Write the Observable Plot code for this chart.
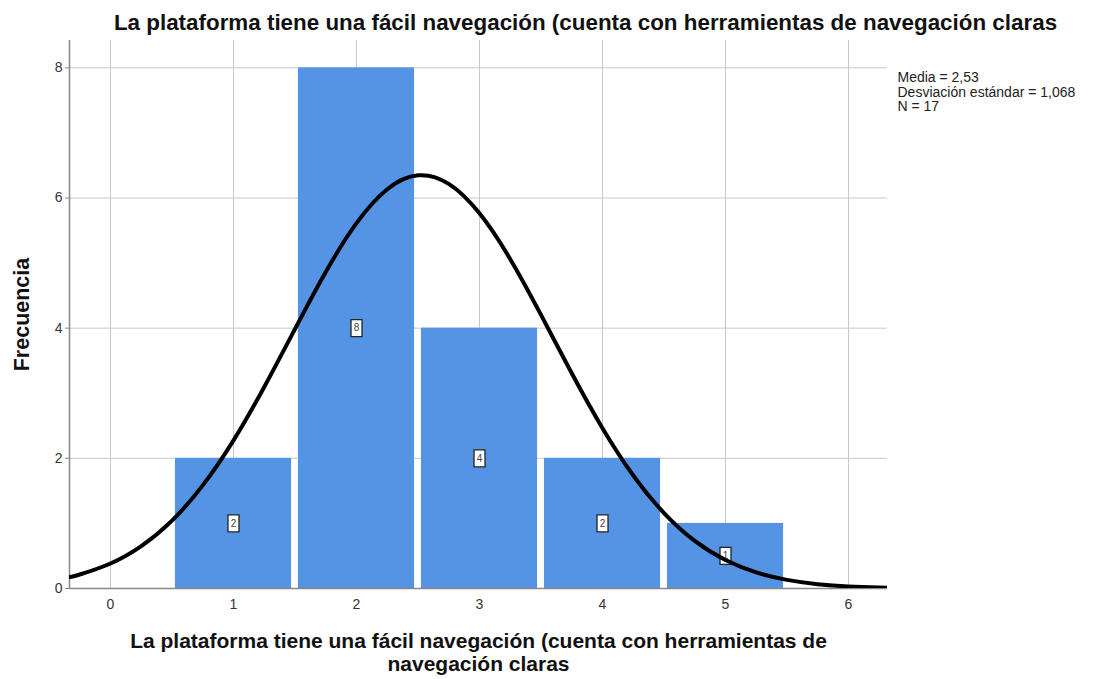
<!DOCTYPE html>
<html><head><meta charset="utf-8">
<script src="https://cdn.jsdelivr.net/npm/d3@7"></script>
<script src="https://cdn.jsdelivr.net/npm/@observablehq/plot@0.6"></script>
<style>body{margin:0;background:#fff;font-family:"Liberation Sans",Arial,sans-serif}</style>
</head><body><div id="chart"></div>
<script>
const title = "La plataforma tiene una fácil navegación (cuenta con herramientas de navegación claras";
const xLabelLines = ["La plataforma tiene una fácil navegación (cuenta con herramientas de", "navegación claras"];
const yLabel = "Frecuencia";
const legendLines = ["Media = 2,53", "Desviación estándar = 1,068", "N = 17"];
const categories = [1, 2, 3, 4, 5];
const counts = [2, 8, 4, 2, 1];
const xTicks = [0, 1, 2, 3, 4, 5, 6];
const yTicks = [0, 2, 4, 6, 8];
// normal curve
const curveX = [-0.33, -0.25, 0, 0.25, 0.5, 0.75, 1, 1.25, 1.5, 1.75, 2, 2.25, 2.5, 2.75, 3, 3.25, 3.5, 3.75, 4, 4.25, 4.5, 4.75, 5, 5.25, 5.5, 5.75, 6, 6.25, 6.31];
const curveY = [0.176, 0.215, 0.384, 0.650, 1.043, 1.584, 2.276, 3.097, 3.988, 4.864, 5.613, 6.135, 6.348, 6.217, 5.764, 5.060, 4.204, 3.307, 2.463, 1.736, 1.159, 0.732, 0.438, 0.248, 0.133, 0.067, 0.032, 0.015, 0.012];

const bars = categories.map((c, i) => ({c, n: counts[i]}));
const curve = curveX.map((x, i) => ({x, y: curveY[i]}));
const half = 0.472;
const boxSymbol = {draw(ctx, size){ ctx.rect(-5.5, -8.5, 11, 17); }};

const W = 1099, H = 679;
const plot = Plot.plot({
  width: W, height: H,
  marginLeft: 69, marginRight: 212, marginTop: 40, marginBottom: 91,
  style: {fontFamily: '"Liberation Sans", Arial, sans-serif', background: "#fff"},
  x: {domain: [-0.3333, 6.317], axis: null},
  y: {domain: [0, 8.42], axis: null},
  marks: [
    Plot.ruleX(xTicks, {x: d => d, stroke: "#c8c8c8", strokeWidth: 1}),
    Plot.ruleY(yTicks.filter(d => d > 0), {y: d => d, stroke: "#c8c8c8", strokeWidth: 1}),
    Plot.rectY(bars, {x1: d => d.c - half, x2: d => d.c + half, y: "n", fill: "#5594e4"}),
    Plot.axisX(xTicks, {tickSize: 0, tickPadding: 11, fontSize: 14, fill: "#333", tickFormat: d => String(d)}),
    Plot.axisY(yTicks, {tickSize: 4, tickPadding: 3, fontSize: 14, fill: "#333", stroke: "#888", tickFormat: d => String(d)}),
    Plot.ruleX([-0.3333], {stroke: "#888", strokeWidth: 1.5}),
    Plot.ruleY([0], {stroke: "#888", strokeWidth: 1.5}),
    Plot.dot(bars, {x: "c", y: d => d.n / 2, symbol: boxSymbol, r: 5, fill: "#fff", stroke: "#222", strokeWidth: 1.3}),
    Plot.text(bars, {x: "c", y: d => d.n / 2, text: d => String(d.n), fontSize: 10, fill: "#444"}),
    Plot.line(curve, {x: "x", y: "y", curve: "natural", stroke: "#000", strokeWidth: 4, clip: true}),
    Plot.text([title], {frameAnchor: "top", lineAnchor: "middle", text: d => d, dy: -18, dx: 107, fontSize: 22.4, fontWeight: "bold", fill: "#111"}),
    Plot.text([yLabel], {frameAnchor: "left", textAnchor: "middle", lineAnchor: "middle", text: d => d, rotate: -90, dx: -47, dy: 0, fontSize: 21.5, fontWeight: "bold", fill: "#111"}),
    Plot.text([xLabelLines.join("\n")], {frameAnchor: "bottom", lineAnchor: "top", text: d => d, dy: 43, lineHeight: 1.1, fontSize: 21, fontWeight: "bold", fill: "#111"}),
    Plot.text([legendLines.join("\n")], {frameAnchor: "top-right", textAnchor: "start", lineAnchor: "top", text: d => d, dx: 10, dy: 31, lineHeight: 1.05, fontSize: 14, fill: "#222"})
  ]
});
document.getElementById("chart").append(plot);
</script></body></html>
